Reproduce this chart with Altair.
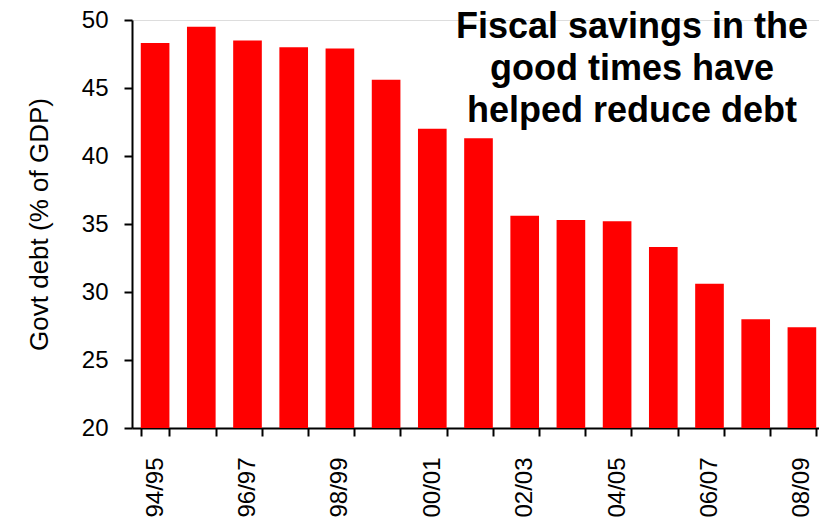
import altair as alt
import pandas as pd

years = ["94/95", "95/96", "96/97", "97/98", "98/99", "99/00", "00/01", "01/02",
         "02/03", "03/04", "04/05", "05/06", "06/07", "07/08", "08/09"]
debt = [48.3, 49.5, 48.5, 48.0, 47.9, 45.6, 42.0, 41.3,
        35.6, 35.3, 35.2, 33.3, 30.6, 28.0, 27.4]
y_ticks = [20, 25, 30, 35, 40, 45, 50]
title_text = "Fiscal savings in the\ngood times have\nhelped reduce debt"

df = pd.DataFrame({"year": years, "debt": debt})
FONT = "Liberation Sans"

bars = alt.Chart(df).mark_bar(color="#FF0000", clip=True).encode(
    x=alt.X("year:N", sort=years,
            scale=alt.Scale(paddingInner=0.38, paddingOuter=0.19, range=[0, 693]),
            axis=alt.Axis(title=None, labelAngle=-90, labelAlign="right", labelBaseline="middle",
                          tickBand="extent", tickSize=8, tickWidth=2, domainWidth=2,
                          domainColor="black", tickColor="black", labelColor="black",
                          labelFont=FONT, labelFontSize=24, labelPadding=21,
                          labelExpr="toNumber(substring(datum.label,0,2)) % 2 == 0 ? datum.label : ''")),
    y=alt.Y("debt:Q", scale=alt.Scale(domain=[20, 50], nice=False, zero=False),
            axis=alt.Axis(title="Govt debt (% of GDP)", values=y_ticks, grid=False,
                          tickSize=8, tickWidth=2, domainWidth=2, domainColor="black",
                          tickColor="black", labelColor="black", labelFont=FONT,
                          labelFontSize=24, labelPadding=16, titleFont=FONT,
                          titleFontSize=26, titleFontWeight="normal", titleColor="black",
                          titlePadding=29)),
)

title = alt.Chart(pd.DataFrame({"t": [title_text]})).mark_text(
    font=FONT, fontSize=36, fontWeight="bold", color="black", align="center",
    baseline="alphabetic", lineBreak="\n", lineHeight=42
).encode(text="t:N", x=alt.value(500), y=alt.value(18))

chart = alt.layer(bars, title).properties(
    width=687, height=408,
    autosize=alt.AutoSizeParams(type="none"),
    padding={"left": 132, "top": 20, "right": 0, "bottom": 90},
).configure_view(stroke=None).configure(background="white")

chart.save("out.html", embed_options={"renderer": "svg", "actions": False})
